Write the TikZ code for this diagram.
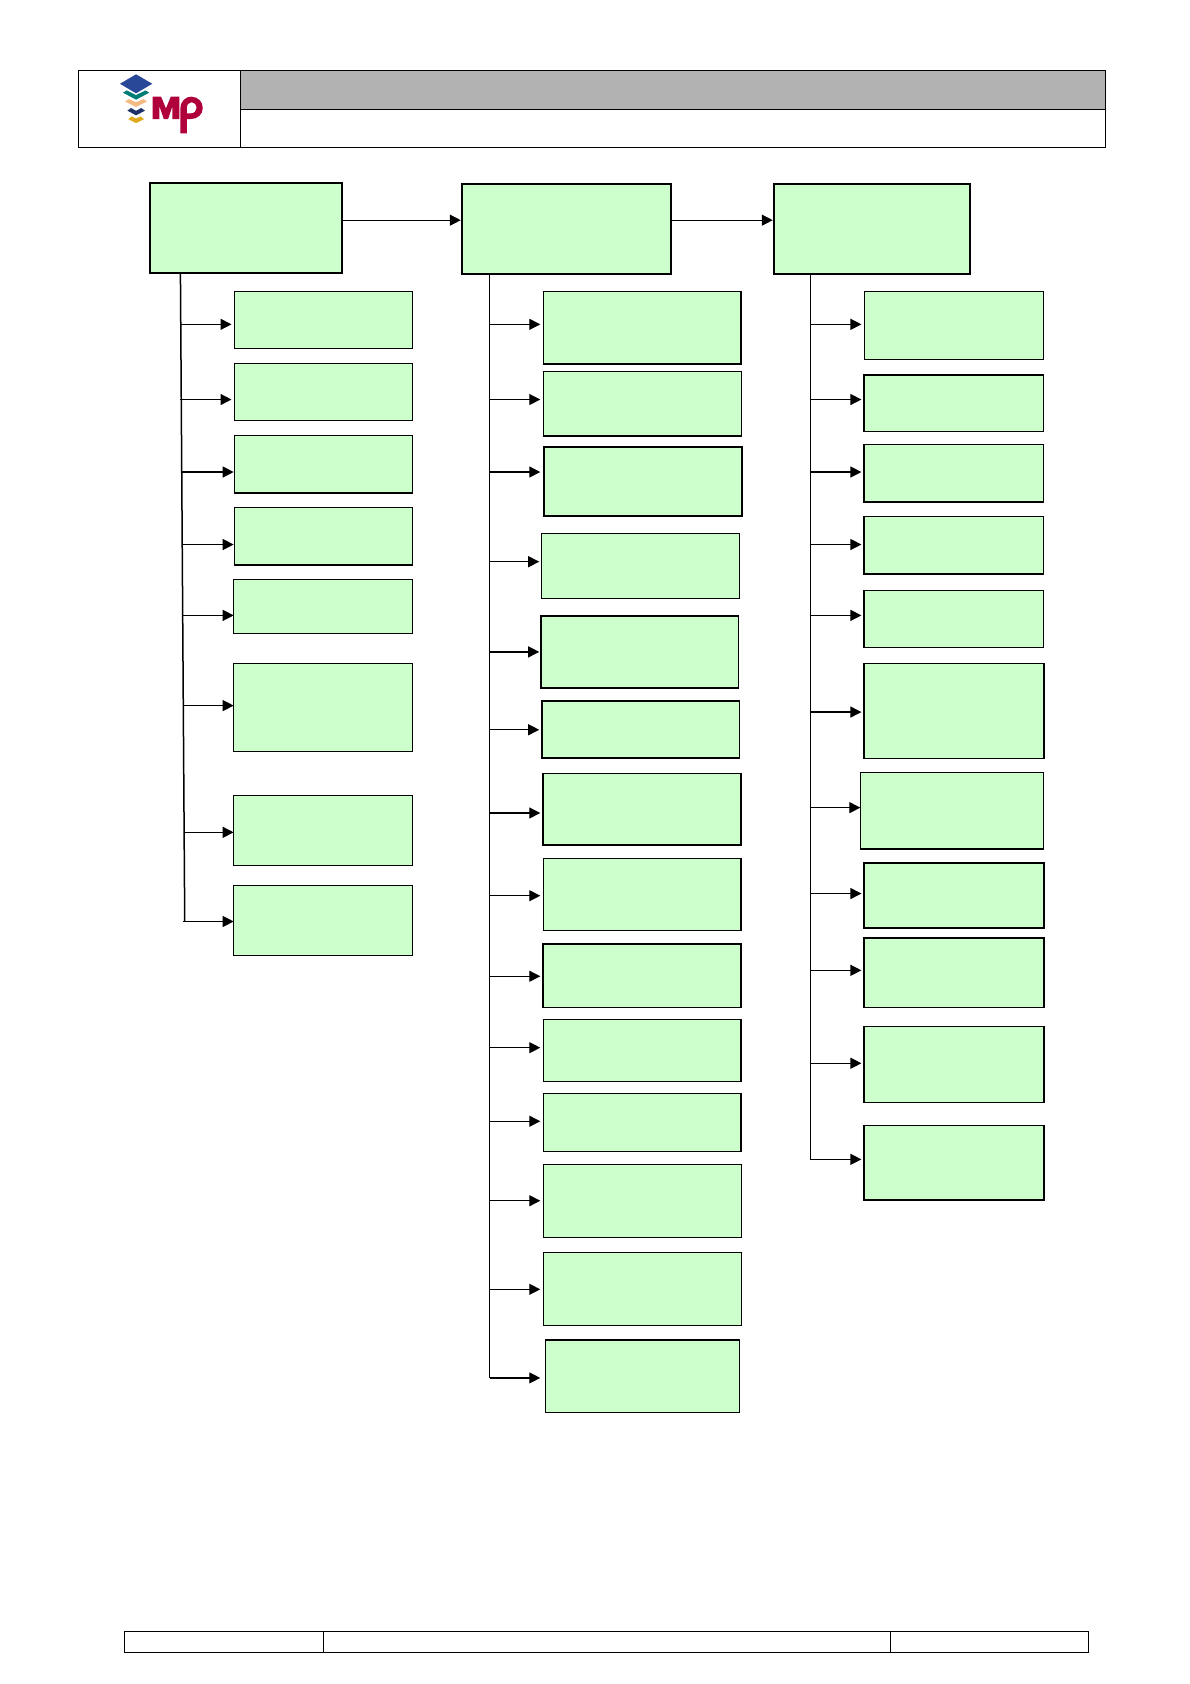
\documentclass[tikz,border=0pt]{standalone}
\usepackage{fontspec}
\setmainfont{Liberation Sans}
\usetikzlibrary{arrows.meta,calc}
\definecolor{boxgreen}{RGB}{204,255,204}
\definecolor{headgray}{RGB}{178,178,178}
\definecolor{mpred}{RGB}{176,0,60}
\definecolor{lblue}{RGB}{42,72,152}
\definecolor{lteal}{RGB}{0,125,118}
\definecolor{lpeach}{RGB}{245,185,130}
\definecolor{lnavy}{RGB}{30,50,105}
\definecolor{lgold}{RGB}{225,170,30}
\tikzset{
 boxbase/.style={draw=black,fill=boxgreen,line width=#1+.25pt,rectangle,inner sep=0pt,outer sep=0pt},
 arr/.style={-{Triangle[length=11pt,width=11pt]},line width=1.25pt,shorten >=1pt},
 trunk/.style={line width=1.5pt},
 frame/.style={draw=black,line width=1pt},
}
% name, x1,y1,x2,y2, line width
\newcommand{\gbox}[6]{%
 \pgfmathsetmacro{\gw}{#4-#2}\pgfmathsetmacro{\gh}{#5-#3}%
 \pgfmathsetmacro{\gcx}{(#2+#4)/2}\pgfmathsetmacro{\gcy}{(#3+#5)/2}%
 \node[boxbase=#6,minimum width=\gw*1.074pt,minimum height=\gh*1.074pt] (#1) at (\gcx,\gcy) {};}
% name, target node, start x, y, tip x
\newcommand{\garrow}[5]{%
 \coordinate (#1s) at (#3,#4);\coordinate (#1e) at (#5,#4);
 \draw[arr] (#1s) -- (#1e);}
\begin{document}
\begin{tikzpicture}[x=1.074pt,y=-1.074pt]
\useasboundingbox (0,0) rectangle (1108,1568);
\fill[white] (0,0) rectangle (1108,1568);
% header
\node[frame,minimum width=151*1.074pt,minimum height=72*1.074pt,inner sep=0pt,outer sep=0pt] (logo) at (148.5,101.5) {};
\node[frame,fill=headgray,minimum width=805*1.074pt,minimum height=36*1.074pt,inner sep=0pt,outer sep=0pt] (headtop) at (626.5,83.5) {};
\node[frame,minimum width=805*1.074pt,minimum height=36*1.074pt,inner sep=0pt,outer sep=0pt] (headbot) at (626.5,119.5) {};
% logo
\fill[lblue] (126.7,69.2) -- (141.8,78) -- (126.7,86.9) -- (111.7,78) -- cycle;
\fill[lteal] (114.5,86.3) -- (118,84.2) -- (126.7,88.5) -- (135.5,84.2) -- (139,86.3) -- (126.7,92.8) -- cycle;
\fill[lpeach] (116.5,94.5) -- (120,92.3) -- (126.7,95.2) -- (133.5,92.3) -- (136.7,94.5) -- (126.7,99.6) -- cycle;
\fill[lnavy] (118.6,103) -- (122,100.6) -- (126.7,103.2) -- (131.5,100.6) -- (135,103) -- (126.7,107.4) -- cycle;
\fill[lgold] (119.5,111) -- (122.5,108.4) -- (126.7,110.3) -- (131,108.4) -- (134,111) -- (126.7,114.6) -- cycle;
\fill[mpred] (142,110.8) -- (142,90) -- (150,90) -- (154.5,101) -- (159,90) -- (167,90) -- (167,110.8) -- (160.5,110.8) -- (160.5,99) -- (156.5,110.8) -- (152.5,110.8) -- (148.5,99) -- (148.5,110.8) -- cycle;
\fill[mpred,even odd rule] (168,124.2) -- (168,101) .. controls (168,94) and (173,90) .. (178,90) .. controls (184.5,90) and (188.8,95) .. (188.8,100.5) .. controls (188.8,106.5) and (184,110.8) .. (178,110.8) -- (174,110.8) -- (174,124.2) -- cycle (174,105.5) -- (178,105.5) .. controls (181,105.5) and (183,103) .. (183,100.5) .. controls (183,97.5) and (181,95.3) .. (178,95.3) .. controls (175.5,95.3) and (174,97.5) .. (174,101) -- cycle;
% top boxes
\gbox{a0}{139.5}{170.5}{318.5}{254.5}{1.5pt}
\gbox{b0}{430}{171}{624.5}{255}{1.5pt}
\gbox{c0}{720.5}{171}{903.5}{255}{1.5pt}
\draw[arr] (a0.east|-0,205) -- (b0.west|-0,205);
\draw[arr] (b0.east|-0,205) -- (c0.west|-0,205);
% column A
\gbox{a1}{218.5}{271.5}{384}{324.5}{.8pt}
\gbox{a2}{218.5}{338.5}{384}{391.5}{.9pt}
\gbox{a3}{218.5}{405.5}{384}{459}{1.1pt}
\gbox{a4}{218.5}{472.5}{384}{526}{1.1pt}
\gbox{a5}{217.5}{539.5}{384}{590}{.8pt}
\gbox{a6}{217.5}{617.5}{384}{699.5}{.8pt}
\gbox{a7}{217.5}{740.5}{384}{806}{.8pt}
\gbox{a8}{217.5}{824.5}{384}{889.5}{.9pt}
\coordinate (atop) at (168,255);
\coordinate (abot) at (172,858);
\draw[trunk] (atop) -- (abot);
\garrow{pa1}{a1}{168.5}{302}{216.5}
\garrow{pa2}{a2}{168}{372}{216.5}
\garrow{pa3}{a3}{169.5}{439.5}{218.5}
\garrow{pa4}{a4}{170}{507}{218.5}
\garrow{pa5}{a5}{170.5}{573}{218.5}
\garrow{pa6}{a6}{171}{657}{218.5}
\garrow{pa7}{a7}{171}{775}{218.5}
\garrow{pa8}{a8}{170.5}{858}{218.5}
% column B
\gbox{b1}{506}{271.5}{690}{339}{1.1pt}
\gbox{b2}{506}{346}{690.5}{406}{1pt}
\gbox{b3}{506.5}{416}{691}{480.5}{1.2pt}
\gbox{b4}{504}{496.5}{688.5}{557}{1.1pt}
\gbox{b5}{503.5}{573.5}{687.5}{640.5}{1.3pt}
\gbox{b6}{504.5}{652.5}{688.5}{706}{1.3pt}
\gbox{b7}{505.5}{720}{690}{787}{1.3pt}
\gbox{b8}{506}{799.5}{690}{866.5}{1pt}
\gbox{b9}{505.5}{879}{690}{938}{1.1pt}
\gbox{b10}{506}{949.5}{690}{1007}{1pt}
\gbox{b11}{506}{1018.5}{690}{1072.5}{1pt}
\gbox{b12}{506}{1084.5}{690.5}{1152}{1.1pt}
\gbox{b13}{506}{1166.5}{690.5}{1234.5}{.9pt}
\gbox{b14}{508}{1247.5}{688.5}{1315}{1.3pt}
\coordinate (btop) at (456,255);
\coordinate (bbot) at (456,1283);
\draw[trunk] (btop) -- (bbot);
\garrow{pb1}{b1}{456}{302}{504}
\garrow{pb2}{b2}{456}{372}{504}
\garrow{pb3}{b3}{456}{439.5}{504}
\garrow{pb4}{b4}{456}{523}{503}
\garrow{pb5}{b5}{456}{607}{503}
\garrow{pb6}{b6}{456}{679.5}{503}
\garrow{pb7}{b7}{456}{757}{504}
\garrow{pb8}{b8}{456}{834}{504}
\garrow{pb9}{b9}{456}{909}{504}
\garrow{pb10}{b10}{456}{975.5}{504}
\garrow{pb11}{b11}{456}{1044}{504}
\garrow{pb12}{b12}{456}{1118}{504}
\garrow{pb13}{b13}{456}{1200.5}{504}
\garrow{pb14}{b14}{456}{1283}{504}
% column C
\gbox{c1}{805}{271.5}{971.5}{335}{1.1pt}
\gbox{c2}{804.5}{349}{971.5}{401.5}{1.1pt}
\gbox{c3}{804.5}{414}{971.5}{467.5}{1pt}
\gbox{c4}{804.5}{481}{971.5}{534.5}{1.1pt}
\gbox{c5}{804.5}{550}{971.5}{603}{.9pt}
\gbox{c6}{804.5}{617.5}{972}{706.5}{1pt}
\gbox{c7}{801.5}{719.5}{971.5}{790.5}{.9pt}
\gbox{c8}{804.5}{803.5}{972}{864}{1.1pt}
\gbox{c9}{804.5}{873.5}{972}{938}{1.2pt}
\gbox{c10}{804.5}{956}{972}{1026.5}{1pt}
\gbox{c11}{804.5}{1048}{972}{1117.5}{1.2pt}
\coordinate (ctop) at (754.5,255);
\coordinate (cbot) at (754.5,1079);
\draw[trunk] (ctop) -- (cbot);
\garrow{pc1}{c1}{754.5}{302}{803}
\garrow{pc2}{c2}{754.5}{372}{803}
\garrow{pc3}{c3}{754.5}{439.5}{803}
\garrow{pc4}{c4}{754.5}{507}{803}
\garrow{pc5}{c5}{754.5}{573}{803}
\garrow{pc6}{c6}{754.5}{663}{803}
\garrow{pc7}{c7}{754.5}{752}{802}
\garrow{pc8}{c8}{754.5}{832}{803}
\garrow{pc9}{c9}{754.5}{903.5}{803}
\garrow{pc10}{c10}{754.5}{990}{803}
\garrow{pc11}{c11}{754.5}{1079.5}{803}
% footer
\node[frame,minimum width=186*1.074pt,minimum height=19.5*1.074pt,inner sep=0pt,outer sep=0pt] (f1) at (208.5,1529) {};
\node[frame,minimum width=528*1.074pt,minimum height=19.5*1.074pt,inner sep=0pt,outer sep=0pt] (f2) at (565.5,1529) {};
\node[frame,minimum width=184*1.074pt,minimum height=19.5*1.074pt,inner sep=0pt,outer sep=0pt] (f3) at (921.5,1529) {};
\end{tikzpicture}
\end{document}
